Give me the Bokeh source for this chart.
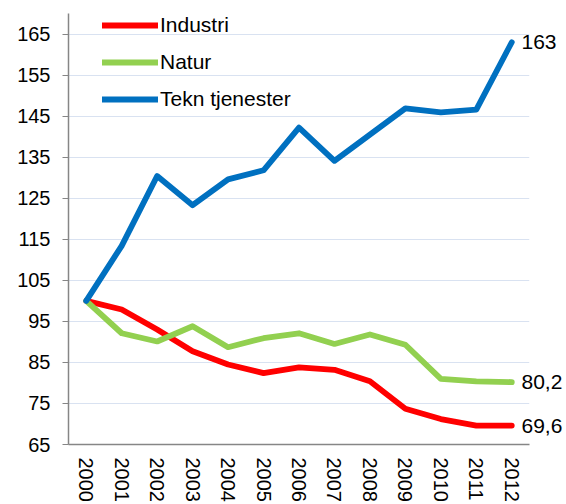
import math
from bokeh.plotting import figure
from bokeh.models import FixedTicker, Legend, LegendItem, LinearAxis, Range1d
from bokeh.embed import file_html
from bokeh.resources import INLINE

years = ["2000", "2001", "2002", "2003", "2004", "2005", "2006",
         "2007", "2008", "2009", "2010", "2011", "2012"]
industri = [100, 97.9, 93.0, 87.7, 84.5, 82.4, 83.8, 83.2, 80.4, 73.7, 71.2, 69.6, 69.6]
natur = [100, 92.1, 90.1, 93.8, 88.7, 90.9, 92.1, 89.5, 91.8, 89.3, 81.0, 80.4, 80.2]
tekn = [100, 113.4, 130.4, 123.3, 129.6, 131.8, 142.2, 134.1, 140.5, 146.9, 145.9, 146.6, 163.0]
series_names = ["Industri", "Natur", "Tekn tjenester"]
end_labels = ["69,6", "80,2", "163"]
y_ticks = [65, 75, 85, 95, 105, 115, 125, 135, 145, 155, 165]

colors = ["#FF0000", "#92D050", "#0070C0"]
FONT = "Liberation Sans"
FS = "20px"
FS_BIG = "21px"

x = list(range(len(years)))

p = figure(width=566, height=504, output_backend="svg", toolbar_location=None,
           x_range=Range1d(-0.5, len(years) - 0.5), y_range=Range1d(65, 170),
           min_border_left=68, min_border_right=37, min_border_top=13,
           min_border_bottom=60)
p.outline_line_color = None
p.background_fill_color = "white"

# axes
p.xaxis.ticker = FixedTicker(ticks=x)
p.xaxis.major_label_overrides = {i: y for i, y in enumerate(years)}
p.xaxis.major_label_orientation = -math.pi / 2
p.xaxis.major_tick_line_color = None
p.xaxis.major_tick_out = 0
p.xaxis.major_tick_in = 0
p.xaxis.minor_tick_line_color = None
p.xaxis.axis_line_color = "#868686"
p.xaxis.axis_line_width = 1.5
p.xaxis.major_label_standoff = 13
p.xaxis.major_label_text_font = FONT
p.xaxis.major_label_text_font_size = FS
p.xaxis.major_label_text_color = "black"

p.yaxis.ticker = FixedTicker(ticks=y_ticks)
p.yaxis.major_tick_out = 6
p.yaxis.major_tick_in = 0
p.yaxis.major_tick_line_color = "#868686"
p.yaxis.minor_tick_line_color = None
p.yaxis.axis_line_color = "#868686"
p.yaxis.axis_line_width = 1.5
p.yaxis.major_label_standoff = 12
p.yaxis.major_label_text_font = FONT
p.yaxis.major_label_text_font_size = FS
p.yaxis.major_label_text_color = "black"

p.xgrid.grid_line_color = None
p.ygrid.ticker = FixedTicker(ticks=y_ticks[1:])
p.ygrid.grid_line_color = "#D9E2F1"
p.ygrid.grid_line_width = 1.2

renderers = []
for vals, c in zip([industri, natur, tekn], colors):
    r = p.line(x, vals, line_color=c, line_width=5.8, line_join="round", line_cap="round")
    renderers.append(r)

legend = Legend(items=[LegendItem(label=n, renderers=[r]) for n, r in zip(series_names, renderers)],
                location=(34, 333), glyph_width=56, glyph_height=20, label_height=20,
                spacing=13, padding=0, margin=0, label_standoff=2,
                label_text_font=FONT, label_text_font_size=FS_BIG,
                label_text_color="black", border_line_color=None,
                background_fill_alpha=0)
p.add_layout(legend)

# end-value labels via a right axis that shares the y scale
end_vals = [industri[-1], natur[-1], tekn[-1]]
raxis = LinearAxis(ticker=FixedTicker(ticks=end_vals),
                   major_label_overrides={v: t for v, t in zip(end_vals, end_labels)},
                   axis_line_color=None, major_tick_line_color=None,
                   minor_tick_line_color=None, major_tick_out=0, major_tick_in=0,
                   major_label_standoff=-8, major_label_text_font=FONT,
                   major_label_text_font_size=FS_BIG, major_label_text_color="black")
p.add_layout(raxis, "right")

open("out.html", "w").write(file_html(p, INLINE))
